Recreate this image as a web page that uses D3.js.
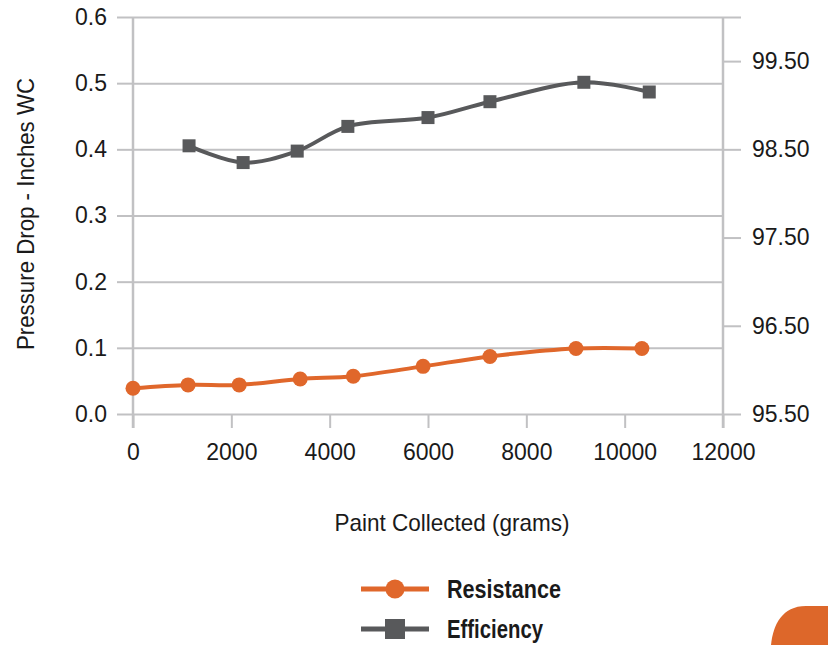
<!DOCTYPE html>
<html>
<head>
<meta charset="utf-8">
<script src="https://cdn.jsdelivr.net/npm/d3@7"></script>
<style>
  body { margin: 0; background: #fff; }
  text { font-family: "Liberation Sans", Arial, sans-serif; fill: #1a1a1a; }
</style>
</head>
<body>
<svg width="828" height="645"></svg>
<script>
"use strict";

// paint collected (grams) for each reading
const resistanceGrams = [0, 1120, 2160, 3400, 4480, 5900, 7260, 9010, 10350];
const resistance = [0.039, 0.044, 0.044, 0.053, 0.057, 0.072, 0.087, 0.099, 0.099];
const efficiencyGrams = [1140, 2240, 3340, 4370, 6000, 7260, 9170, 10500];
const efficiency = [98.54, 98.35, 98.48, 98.76, 98.86, 99.04, 99.26, 99.15];

const xTicks = [0, 2000, 4000, 6000, 8000, 10000, 12000];
const leftTicks = [0, 0.1, 0.2, 0.3, 0.4, 0.5, 0.6];
const rightTicks = [95.5, 96.5, 97.5, 98.5, 99.5, 100];

const seriesNames = ["Resistance", "Efficiency"];

function chart() {
  /////////////////////////////////////////////////////
  //setup
  /////////////////////////////////////////////////////
  const margin = { top: 17, right: 105, bottom: 231, left: 133 };
  const width = 828 - margin.left - margin.right;
  const height = 645 - margin.top - margin.bottom;

  const orange = "#e0672b";
  const grey = "#58595b";
  const gridColor = "#c1c1c3";

  const svg = d3.select("svg");
  const g = svg
    .append("g")
    .attr("transform", `translate(${margin.left},${margin.top})`);

  const x = d3.scaleLinear().domain([0, 12000]).range([0, width]);
  const y = d3.scaleLinear().domain([0, 0.6]).range([height, 0]);
  const yRight = d3.scaleLinear().domain([95.5, 100]).range([height, 0]);

  /////////////////////////////////////////////////////
  //grid and axes
  /////////////////////////////////////////////////////
  g.append("g")
    .call(d3.axisLeft(y).tickValues(leftTicks).tickSize(-width).tickFormat(""))
    .call((s) => s.select(".domain").remove())
    .call((s) => s.selectAll("line").attr("stroke", gridColor).attr("stroke-width", 2));

  const styleAxis = (s) => {
    s.select(".domain").remove();
    s.selectAll("line").attr("stroke", gridColor).attr("stroke-width", 2);
    s.selectAll("text").attr("font-size", 23).attr("fill", "#1a1a1a");
  };

  g.append("g")
    .call(
      d3.axisLeft(y).tickValues(leftTicks).tickSize(16).tickPadding(10)
        .tickFormat(d3.format(".1f"))
    )
    .call(styleAxis);

  g.append("g")
    .attr("transform", `translate(${width},0)`)
    .call(
      d3.axisRight(yRight).tickValues(rightTicks).tickSize(18).tickPadding(11)
        .tickFormat((d) => (d === 100 ? "" : d3.format(".2f")(d)))
    )
    .call(styleAxis);

  g.append("g")
    .attr("transform", `translate(0,${height})`)
    .call(
      d3.axisBottom(x).tickValues(xTicks).tickSize(14).tickPadding(16)
        .tickFormat(d3.format("d"))
    )
    .call(styleAxis);

  // vertical axis lines, running a bit below the plot like the ticks
  g.selectAll(".vaxis")
    .data([0, width])
    .enter()
    .append("line")
    .attr("x1", (d) => d)
    .attr("x2", (d) => d)
    .attr("y1", 0)
    .attr("y2", height + 14)
    .attr("stroke", gridColor)
    .attr("stroke-width", 2.5);

  /////////////////////////////////////////////////////
  //series
  /////////////////////////////////////////////////////
  const resData = resistanceGrams.map((v, i) => [v, resistance[i]]);
  const effData = efficiencyGrams.map((v, i) => [v, efficiency[i]]);

  const resLine = d3.line()
    .x((d) => x(d[0]))
    .y((d) => y(d[1]))
    .curve(d3.curveCatmullRom);
  const effLine = d3.line()
    .x((d) => x(d[0]))
    .y((d) => yRight(d[1]))
    .curve(d3.curveCatmullRom);

  g.append("path")
    .datum(effData)
    .attr("fill", "none")
    .attr("stroke", grey)
    .attr("stroke-width", 4)
    .attr("d", effLine);

  g.selectAll(".eff")
    .data(effData)
    .enter()
    .append("rect")
    .attr("x", (d) => x(d[0]) - 6.5)
    .attr("y", (d) => yRight(d[1]) - 6.5)
    .attr("width", 13)
    .attr("height", 13)
    .attr("fill", grey);

  g.append("path")
    .datum(resData)
    .attr("fill", "none")
    .attr("stroke", orange)
    .attr("stroke-width", 4)
    .attr("d", resLine);

  g.selectAll(".res")
    .data(resData)
    .enter()
    .append("circle")
    .attr("cx", (d) => x(d[0]))
    .attr("cy", (d) => y(d[1]))
    .attr("r", 7.5)
    .attr("fill", orange);

  /////////////////////////////////////////////////////
  //titles
  /////////////////////////////////////////////////////
  svg.append("text")
    .attr("transform", "translate(34,214) rotate(-90)")
    .attr("text-anchor", "middle")
    .attr("font-size", 24)
    .attr("textLength", 272)
    .attr("lengthAdjust", "spacingAndGlyphs")
    .text("Pressure Drop - Inches WC");

  svg.append("text")
    .attr("x", 452)
    .attr("y", 531)
    .attr("text-anchor", "middle")
    .attr("font-size", 24)
    .attr("textLength", 235)
    .attr("lengthAdjust", "spacingAndGlyphs")
    .text("Paint Collected (grams)");

  /////////////////////////////////////////////////////
  //legend
  /////////////////////////////////////////////////////
  const legend = svg.append("g").attr("transform", "translate(361,589)");
  const rows = legend
    .selectAll("g")
    .data(seriesNames)
    .enter()
    .append("g")
    .attr("transform", (d, i) => `translate(0,${i * 40})`);

  rows.append("line")
    .attr("x1", 0)
    .attr("x2", 68)
    .attr("stroke", (d, i) => (i === 0 ? orange : grey))
    .attr("stroke-width", 5);

  rows.filter((d, i) => i === 0)
    .append("circle")
    .attr("cx", 34)
    .attr("r", 9.5)
    .attr("fill", orange);

  rows.filter((d, i) => i === 1)
    .append("rect")
    .attr("x", 24)
    .attr("y", -10)
    .attr("width", 20)
    .attr("height", 20)
    .attr("fill", grey);

  rows.append("text")
    .attr("x", 86)
    .attr("y", 9)
    .attr("font-size", 25)
    .attr("font-weight", "bold")
    .attr("textLength", (d, i) => (i === 0 ? 114 : 96))
    .attr("lengthAdjust", "spacingAndGlyphs")
    .attr("fill", "#231f20")
    .text((d) => d);

  // orange corner decoration
  svg.append("path")
    .attr("d", "M771,645 C773,625 782,606 806,606 L828,606 L828,645 Z")
    .attr("fill", "#dd672a");
}

chart();
</script>
</body>
</html>
